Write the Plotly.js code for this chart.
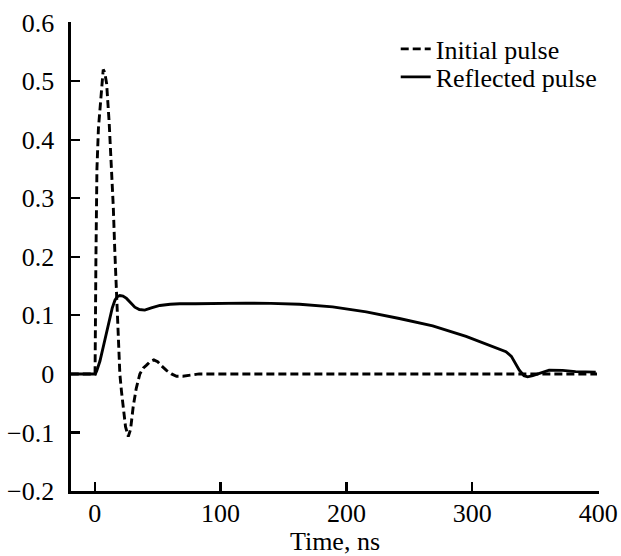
<!DOCTYPE html>
<html>
<head>
<meta charset="utf-8">
<script src="https://cdn.plot.ly/plotly-3.0.1.min.js"></script>
<style>html,body{margin:0;padding:0;background:#fff;}#chart{width:621px;height:556px;}</style>
</head>
<body>
<div id="chart"></div>
<script>
// Initial pulse (dashed)
const initialX = [-19, -10, 0, 0.3, 1.0, 1.8, 3.0, 4.5, 5.5, 6.8, 8.0, 9.5, 11.5, 13.5, 14.8, 16.0, 17.4, 18.7, 20.0, 21.3, 22.7, 24.5, 26.7, 28.5, 30.6, 33.0, 35.9, 38.5, 41.2, 44.0, 47.0, 50.0, 53.0, 57.0, 61.0, 65.0, 70.0, 75.0, 83.0, 100, 200, 300, 399];
const initialY = [0, 0, 0, 0, 0.2, 0.35, 0.42, 0.46, 0.49, 0.52, 0.515, 0.496, 0.43, 0.35, 0.285, 0.21, 0.138, 0.06, 0, -0.03, -0.056, -0.09, -0.107, -0.095, -0.056, -0.025, 0, 0.01, 0.015, 0.021, 0.024, 0.021, 0.014, 0.006, 0, -0.004, -0.004, -0.002, 0, 0, 0, 0, 0];

// Reflected pulse (solid)
const reflectedX = [-19, 0.5, 1.6, 4.2, 6.8, 9.5, 12.1, 14.0, 16.1, 18.0, 20.0, 22.5, 25.3, 28.5, 31.9, 35.5, 39.8, 45.0, 51.8, 60.0, 67.6, 80, 100, 120, 140, 162.8, 189, 215.7, 242, 268.5, 295, 310.9, 326.7, 331, 337.3, 341, 343.9, 348, 353, 361, 371.7, 382, 398];
const reflectedY = [0, 0, 0.005, 0.022, 0.046, 0.072, 0.097, 0.113, 0.126, 0.132, 0.134, 0.133, 0.129, 0.121, 0.114, 0.110, 0.109, 0.113, 0.117, 0.119, 0.120, 0.120, 0.121, 0.121, 0.1205, 0.119, 0.1145, 0.106, 0.0947, 0.082, 0.064, 0.051, 0.038, 0.030, 0.0065, -0.003, -0.005, -0.003, 0.001, 0.0065, 0.006, 0.004, 0.003];

const seriesNames = ["Initial pulse", "Reflected pulse"];
const xTicks = [0, 100, 200, 300, 400];
const yTicks = [-0.2, -0.1, 0, 0.1, 0.2, 0.3, 0.4, 0.5, 0.6];
const yTickText = ["\u22120.2", "\u22120.1", "0", "0.1", "0.2", "0.3", "0.4", "0.5", "0.6"];

const serif = "'Liberation Serif', serif";
const fs = 26;

const traces = [
  {x: initialX, y: initialY, name: seriesNames[0], mode: "lines", legend: "legend",
   line: {color: "#000", width: 2.9, dash: "8px,4px"}},
  {x: reflectedX, y: reflectedY, name: seriesNames[1], mode: "lines", legend: "legend2",
   line: {color: "#000", width: 2.9}}
];

const legendBase = {xanchor: "left", yanchor: "middle", bgcolor: "rgba(0,0,0,0)",
  font: {family: serif, size: fs, color: "#000"}, itemwidth: 30, borderwidth: 0};

const layout = {
  width: 621, height: 556,
  margin: {l: 71, r: 22, t: 22, b: 65, pad: 0},
  paper_bgcolor: "#fff", plot_bgcolor: "#fff",
  font: {family: serif, size: fs, color: "#000"},
  showlegend: true,
  legend: Object.assign({x: 0.615, y: 0.9424}, legendBase),
  legend2: Object.assign({x: 0.615, y: 0.8827}, legendBase),
  xaxis: {range: [-18.8, 400.6], tickvals: xTicks, ticktext: xTicks.map(String),
          ticks: "inside", ticklen: 9, tickwidth: 2.2, tickcolor: "#000",
          showline: true, linewidth: 2.6, linecolor: "#000",
          showgrid: false, zeroline: false, ticklabelstandoff: -3,
          tickfont: {family: serif, size: fs, color: "#000"},
          title: {text: "Time, ns", font: {family: serif, size: fs, color: "#000"}, standoff: 14}},
  yaxis: {range: [-0.2, 0.6012], tickvals: yTicks, ticktext: yTickText,
          ticks: "inside", ticklen: 9, tickwidth: 2.2, tickcolor: "#000",
          showline: true, linewidth: 2.6, linecolor: "#000",
          showgrid: false, zeroline: false, ticklabelstandoff: 9,
          tickfont: {family: serif, size: fs, color: "#000"}}
};

Plotly.newPlot("chart", traces, layout, {displayModeBar: false, staticPlot: true});
</script>
</body>
</html>
